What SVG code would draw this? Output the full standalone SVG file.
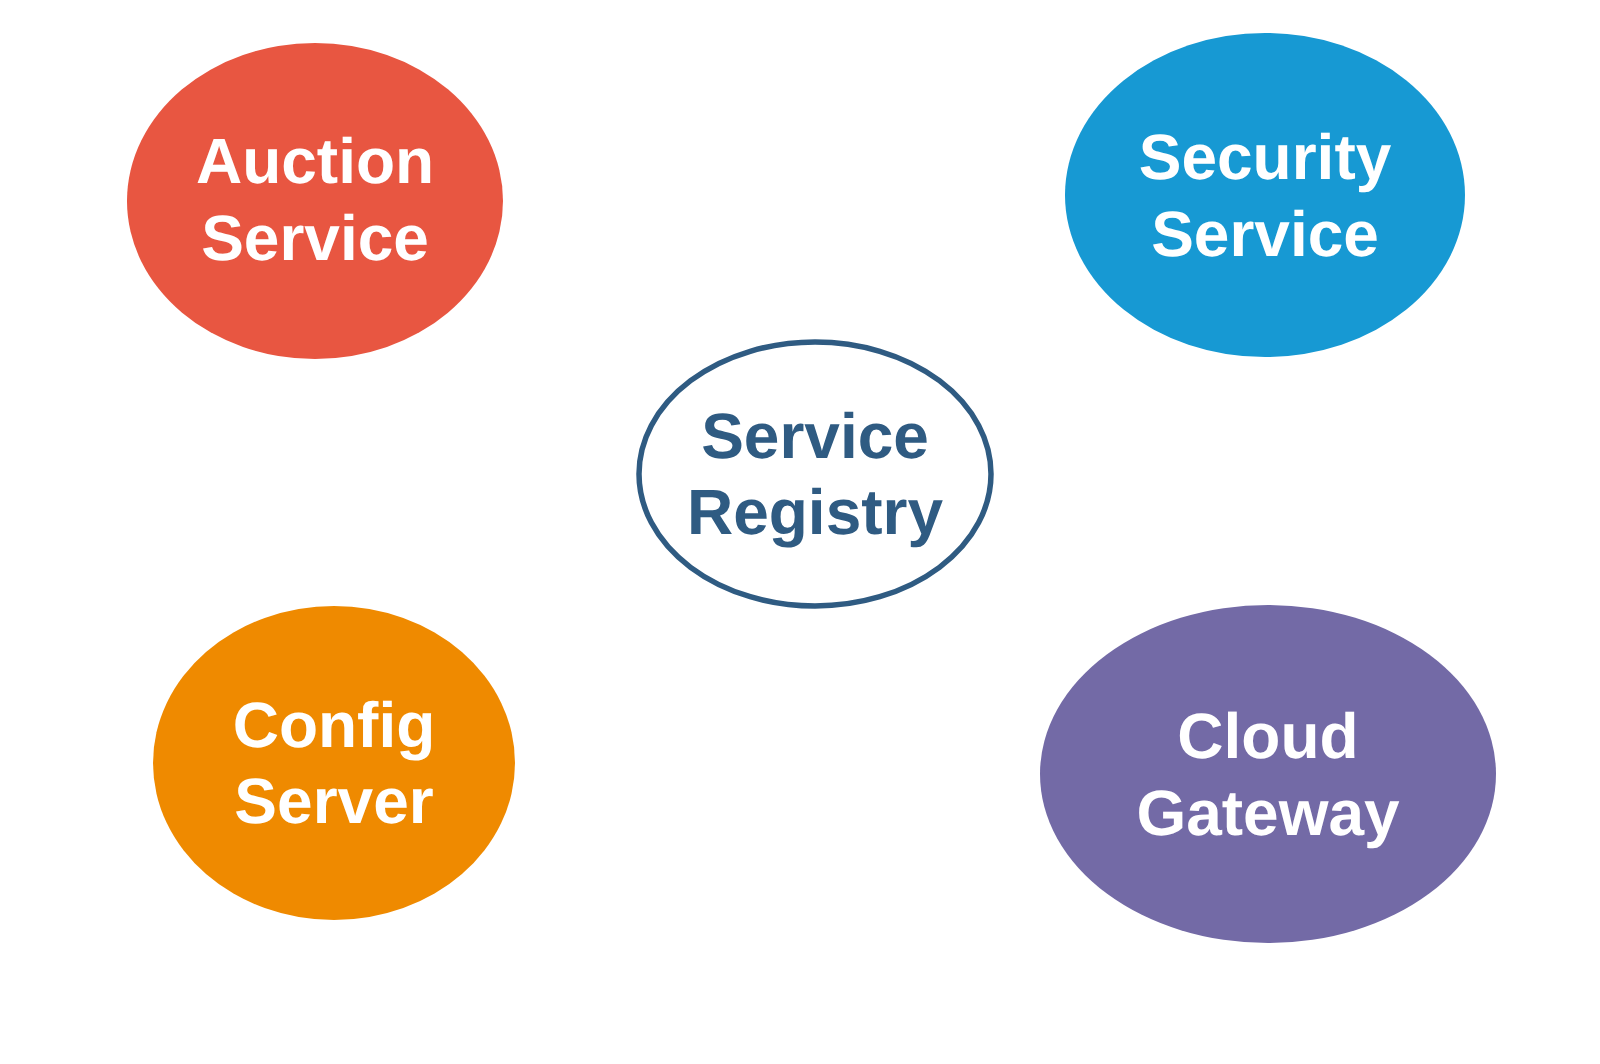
<svg xmlns="http://www.w3.org/2000/svg" width="1600" height="1064" viewBox="0 0 1600 1064">
<style>
.lbl{font-family:"Liberation Sans",Arial,Helvetica,sans-serif;font-weight:bold;font-size:64px;text-anchor:middle;text-rendering:geometricPrecision}
.w{fill:#ffffff}
.b{fill:#2f5b82}
</style>
<rect width="1600" height="1064" fill="#ffffff"/>
<g id="connectors"></g>
<g id="auction-service">
<ellipse cx="315" cy="201" rx="188" ry="158" fill="#e85641"/>
<text class="lbl w" x="315" y="183">Auction</text>
<text class="lbl w" x="315" y="260">Service</text>
</g>
<g id="security-service">
<ellipse cx="1265" cy="195" rx="200" ry="162" fill="#1799d3"/>
<text class="lbl w" x="1265" y="179">Security</text>
<text class="lbl w" x="1265" y="256">Service</text>
</g>
<g id="service-registry">
<ellipse cx="815" cy="474" rx="176" ry="132" fill="#ffffff" stroke="#2f5b82" stroke-width="5.5"/>
<text class="lbl b" x="815" y="458">Service</text>
<text class="lbl b" x="815" y="534">Registry</text>
</g>
<g id="config-server">
<ellipse cx="334" cy="763" rx="181" ry="157" fill="#ef8a00"/>
<text class="lbl w" x="334" y="747">Config</text>
<text class="lbl w" x="334" y="823">Server</text>
</g>
<g id="cloud-gateway">
<ellipse cx="1268" cy="774" rx="228" ry="169" fill="#736aa6"/>
<text class="lbl w" x="1268" y="758">Cloud</text>
<text class="lbl w" x="1268" y="835">Gateway</text>
</g>
</svg>
